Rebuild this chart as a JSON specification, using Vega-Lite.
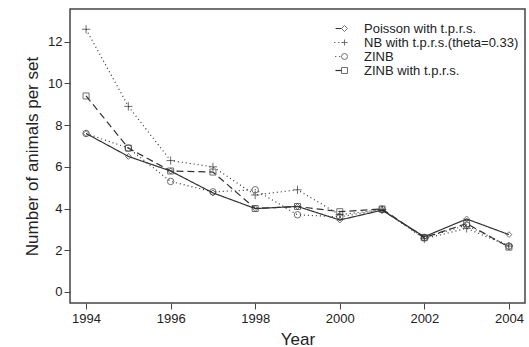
{
  "$schema": "https://vega.github.io/schema/vega-lite/v6.json",
  "width": 455,
  "height": 294,
  "autosize": "none",
  "padding": {"left": 70, "top": 9, "right": 4, "bottom": 44},
  "background": "white",
  "config": {
    "font": "Liberation Sans",
    "view": {"stroke": "#444", "strokeWidth": 1.5},
    "axis": {
      "grid": false,
      "domain": false,
      "tickColor": "#444",
      "tickSize": 6,
      "labelFontSize": 13,
      "labelColor": "#222",
      "titleFontSize": 17,
      "titleFontWeight": "normal",
      "titleColor": "#222"
    }
  },
  "data": {
    "values": [
      {"year": 1994, "model": "Poisson with t.p.r.s.", "value": 7.6},
      {"year": 1995, "model": "Poisson with t.p.r.s.", "value": 6.5},
      {"year": 1996, "model": "Poisson with t.p.r.s.", "value": 5.8},
      {"year": 1997, "model": "Poisson with t.p.r.s.", "value": 4.75},
      {"year": 1998, "model": "Poisson with t.p.r.s.", "value": 4.0},
      {"year": 1999, "model": "Poisson with t.p.r.s.", "value": 4.1},
      {"year": 2000, "model": "Poisson with t.p.r.s.", "value": 3.45},
      {"year": 2001, "model": "Poisson with t.p.r.s.", "value": 3.92},
      {"year": 2002, "model": "Poisson with t.p.r.s.", "value": 2.65},
      {"year": 2003, "model": "Poisson with t.p.r.s.", "value": 3.5},
      {"year": 2004, "model": "Poisson with t.p.r.s.", "value": 2.75},
      {"year": 1994, "model": "NB with t.p.r.s.(theta=0.33)", "value": 12.6},
      {"year": 1995, "model": "NB with t.p.r.s.(theta=0.33)", "value": 8.9},
      {"year": 1996, "model": "NB with t.p.r.s.(theta=0.33)", "value": 6.3},
      {"year": 1997, "model": "NB with t.p.r.s.(theta=0.33)", "value": 6.0},
      {"year": 1998, "model": "NB with t.p.r.s.(theta=0.33)", "value": 4.65},
      {"year": 1999, "model": "NB with t.p.r.s.(theta=0.33)", "value": 4.9},
      {"year": 2000, "model": "NB with t.p.r.s.(theta=0.33)", "value": 3.7},
      {"year": 2001, "model": "NB with t.p.r.s.(theta=0.33)", "value": 3.95},
      {"year": 2002, "model": "NB with t.p.r.s.(theta=0.33)", "value": 2.55},
      {"year": 2003, "model": "NB with t.p.r.s.(theta=0.33)", "value": 3.05},
      {"year": 2004, "model": "NB with t.p.r.s.(theta=0.33)", "value": 2.2},
      {"year": 1994, "model": "ZINB", "value": 7.6},
      {"year": 1995, "model": "ZINB", "value": 6.9},
      {"year": 1996, "model": "ZINB", "value": 5.3},
      {"year": 1997, "model": "ZINB", "value": 4.8},
      {"year": 1998, "model": "ZINB", "value": 4.9},
      {"year": 1999, "model": "ZINB", "value": 3.7},
      {"year": 2000, "model": "ZINB", "value": 3.6},
      {"year": 2001, "model": "ZINB", "value": 3.95},
      {"year": 2002, "model": "ZINB", "value": 2.6},
      {"year": 2003, "model": "ZINB", "value": 3.2},
      {"year": 2004, "model": "ZINB", "value": 2.2},
      {"year": 1994, "model": "ZINB with t.p.r.s.", "value": 9.4},
      {"year": 1995, "model": "ZINB with t.p.r.s.", "value": 6.9},
      {"year": 1996, "model": "ZINB with t.p.r.s.", "value": 5.8},
      {"year": 1997, "model": "ZINB with t.p.r.s.", "value": 5.75},
      {"year": 1998, "model": "ZINB with t.p.r.s.", "value": 4.0},
      {"year": 1999, "model": "ZINB with t.p.r.s.", "value": 4.1},
      {"year": 2000, "model": "ZINB with t.p.r.s.", "value": 3.85},
      {"year": 2001, "model": "ZINB with t.p.r.s.", "value": 3.98},
      {"year": 2002, "model": "ZINB with t.p.r.s.", "value": 2.6},
      {"year": 2003, "model": "ZINB with t.p.r.s.", "value": 3.28},
      {"year": 2004, "model": "ZINB with t.p.r.s.", "value": 2.15}
    ]
  },
  "encoding": {
    "x": {
      "field": "year",
      "type": "quantitative",
      "scale": {"domain": [1993.62, 2004.38], "nice": false, "zero": false},
      "axis": {"values": [1994, 1996, 1998, 2000, 2002, 2004], "format": "d", "title": "Year", "labelPadding": 3, "titlePadding": 6}
    },
    "y": {
      "field": "value",
      "type": "quantitative",
      "scale": {"domain": [-0.53, 13.57], "nice": false, "zero": false},
      "axis": {"values": [0, 2, 4, 6, 8, 10, 12], "title": "Number of animals per set", "labelPadding": 2, "titlePadding": 6}
    }
  },
  "layer": [
    {
      "mark": {"type": "line", "color": "#333", "strokeWidth": 1.2},
      "encoding": {
        "strokeDash": {
          "field": "model",
          "type": "nominal",
          "scale": {
            "domain": ["Poisson with t.p.r.s.", "NB with t.p.r.s.(theta=0.33)", "ZINB", "ZINB with t.p.r.s."],
            "range": [[1, 0], [1, 3], [1, 3], [7, 4]]
          },
          "legend": {
            "orient": "none",
            "legendX": 262,
            "legendY": 13,
            "title": null,
            "padding": 0,
            "symbolType": "stroke",
            "symbolSize": 324,
            "symbolStrokeColor": "#333",
            "symbolStrokeWidth": 1.2,
            "labelFontSize": 13,
            "labelColor": "#222",
            "labelOffset": 19,
            "rowPadding": 0
          }
        }
      }
    },
    {
      "mark": {"type": "point", "filled": false, "color": "#333", "strokeWidth": 1},
      "encoding": {
        "shape": {
          "field": "model",
          "type": "nominal",
          "sort": ["Poisson with t.p.r.s.", "NB with t.p.r.s.(theta=0.33)", "ZINB", "ZINB with t.p.r.s."],
          "scale": {"range": ["diamond", "M-1,0L1,0M0,-1L0,1", "circle", "square"]},
          "legend": {
            "orient": "none",
            "legendX": 268,
            "legendY": 13,
            "title": null,
            "padding": 0,
            "symbolSize": 36,
            "symbolStrokeColor": "#333",
            "symbolFillColor": "white",
            "symbolStrokeWidth": 1,
            "labelFontSize": 13,
            "labelExpr": "''",
            "rowPadding": 0
          }
        },
        "size": {
          "field": "model",
          "type": "nominal",
          "scale": {
            "type": "ordinal",
            "domain": ["Poisson with t.p.r.s.", "NB with t.p.r.s.(theta=0.33)", "ZINB", "ZINB with t.p.r.s."],
            "range": [34, 70, 42, 36]
          },
          "legend": null
        }
      }
    }
  ]
}
